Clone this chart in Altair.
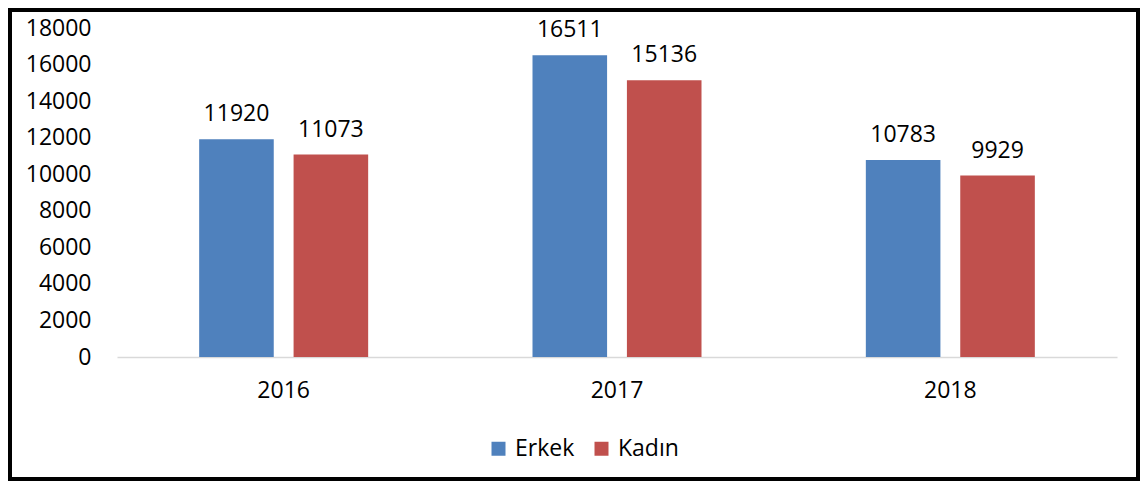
import altair as alt
import pandas as pd

years = ["2016", "2017", "2018"]
erkek = [11920, 16511, 10783]
kadin = [11073, 15136, 9929]
series = ["Erkek", "Kadın"]
colors = ["#4F81BD", "#C0504D"]
y_ticks = [0, 2000, 4000, 6000, 8000, 10000, 12000, 14000, 16000, 18000]

rows = []
for i, yr in enumerate(years):
    rows.append({"year": yr, "sex": "Erkek", "value": erkek[i]})
    rows.append({"year": yr, "sex": "Kadın", "value": kadin[i]})
df = pd.DataFrame(rows)

FONT = "Open Sans"
FS = 23

x_enc = alt.X("year:N", sort=years, title=None,
              scale=alt.Scale(paddingInner=0.493, paddingOuter=0.2465),
              axis=alt.Axis(labelAngle=0, ticks=False, domainColor="#D9D9D9",
                            domainWidth=1.5, labelPadding=22, labelFont=FONT,
                            labelFontSize=FS, labelColor="#000000", grid=False))
xoff = alt.XOffset("sex:N", sort=series,
                   scale=alt.Scale(paddingInner=0.21, paddingOuter=0))
y_enc = alt.Y("value:Q", title=None,
              scale=alt.Scale(domain=[0, 18000], nice=False),
              axis=alt.Axis(values=y_ticks, grid=False, domain=False, ticks=False,
                            labelOverlap=False, labelPadding=26, labelFont=FONT,
                            labelFontSize=FS, labelColor="#000000", format="d"))

base = alt.Chart(df)
bars = base.mark_bar().encode(
    x=x_enc, xOffset=xoff, y=y_enc,
    color=alt.Color("sex:N", sort=series, title=None,
                    scale=alt.Scale(domain=series, range=colors),
                    legend=alt.Legend(orient="none", direction="horizontal",
                                      legendX=370, legendY=409, padding=0,
                                      symbolType="square", symbolSize=196,
                                      symbolStrokeWidth=0, labelFont=FONT,
                                      labelFontSize=FS, labelColor="#000000",
                                      labelOffset=5, columnPadding=15)),
)
labels = base.mark_text(baseline="alphabetic", dy=-18, font=FONT, fontSize=FS,
                        color="#000000").encode(
    x=x_enc, xOffset=xoff, y=y_enc,
    text=alt.Text("value:Q", format="d"))

border = alt.Chart(pd.DataFrame({"a": [0]})).mark_rect(
    fill="transparent", stroke="#000000", strokeWidth=4).encode(
    x=alt.value(-107), x2=alt.value(1021), y=alt.value(-18), y2=alt.value(451))

chart = alt.layer(bars, labels, border).properties(
    width=1000, height=329,
    autosize=alt.AutoSizeParams(type="none"),
    padding={"left": 109, "top": 20, "right": 23, "bottom": 126},
).configure(background="#FFFFFF").configure_view(
    strokeWidth=0, stroke="transparent"
).configure_axisY(labelOverlap=False, labelBound=False)

chart.save("out.html", embed_options={"renderer": "svg", "actions": False})
